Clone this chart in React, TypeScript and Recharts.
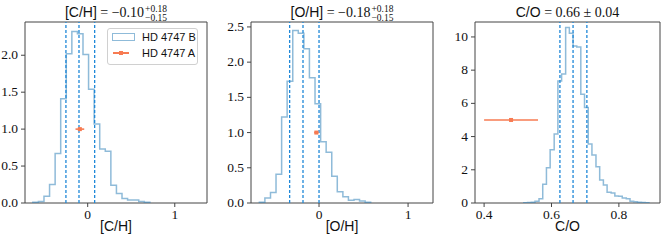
import React from 'react'
import { ComposedChart, Line, Scatter, ErrorBar, XAxis, YAxis, ReferenceLine, ReferenceArea } from 'recharts'

// histogram bin edges and densities
const chEdges = [-0.63, -0.566, -0.502, -0.438, -0.374, -0.31, -0.246, -0.182, -0.118, -0.054, 0.01, 0.074, 0.138, 0.202, 0.266, 0.33, 0.394, 0.458, 0.522, 0.586, 0.65, 0.714]
const chCounts = [0.01, 0.02, 0.09, 0.25, 0.67, 1.41, 2.02, 2.32, 2.29, 2.01, 1.54, 1.07, 0.73, 0.7, 0.24, 0.13, 0.06, 0.04, 0.04, 0.02, 0.01]

const ohEdges = [-0.67, -0.608, -0.545, -0.483, -0.42, -0.358, -0.295, -0.233, -0.17, -0.108, -0.045, 0.018, 0.08, 0.143, 0.205, 0.268, 0.33, 0.393, 0.455, 0.518, 0.58]
const ohCounts = [0.01, 0.07, 0.15, 0.41, 1.22, 1.73, 2.45, 2.41, 2.19, 1.78, 1.41, 0.87, 0.72, 0.38, 0.16, 0.09, 0.04, 0.05, 0.03, 0.01]

const coEdges = [0.518, 0.529, 0.54, 0.551, 0.563, 0.574, 0.585, 0.596, 0.608, 0.619, 0.63, 0.642, 0.653, 0.664, 0.675, 0.687, 0.698, 0.709, 0.72, 0.732, 0.743, 0.754, 0.765, 0.777, 0.788, 0.799, 0.81, 0.822, 0.833, 0.844, 0.855, 0.867, 0.878, 0.889]
const coCounts = [0.02, 0.03, 0.05, 0.1, 0.25, 1.13, 2.13, 3.2, 4.15, 7.35, 7.77, 10.57, 10.22, 9.45, 9.4, 6.55, 5.75, 3.55, 2.89, 2.19, 1.39, 1.08, 0.64, 0.6, 0.42, 0.4, 0.3, 0.26, 0.1, 0.08, 0.05, 0.03, 0.02]

// median and 1-sigma bounds (dashed lines)
const chLines = [-0.25, -0.1, 0.08]
const ohLines = [-0.33, -0.18, 0.0]
const coLines = [0.625, 0.664, 0.705]

// HD 4747 A values
const chStar = [{ x: -0.09, y: 1, xerr: 0.05 }]
const ohStar = [{ x: -0.03, y: 1, xerr: 0.025 }]
const coStar = [{ x: 0.48, y: 5, xerr: 0.08 }]

const chXTicks = [0, 1]
const ohXTicks = [0, 1]
const coXTicks = [0.4, 0.6, 0.8]
const chYTicks = [0, 0.5, 1, 1.5, 2]
const ohYTicks = [0, 0.5, 1, 1.5, 2, 2.5]
const coYTicks = [0, 2, 4, 6, 8, 10]

const histColor = 'rgba(31,119,180,0.5)'
const dashColor = '#1f88d8'
const starColor = '#f77b52'
const serif = '"Liberation Serif", "DejaVu Serif", serif'
const sans = '"Liberation Sans", "DejaVu Sans", sans-serif'

const stepPoints = (edges: number[], counts: number[]) => {
  const pts = [{ x: edges[0], y: 0 }]
  counts.forEach((c, i) => pts.push({ x: edges[i], y: c }))
  pts.push({ x: edges[edges.length - 1], y: 0 })
  return pts
}

const Square = (props: any) => {
  const { cx, cy } = props
  return <rect x={cx - 2} y={cy - 2} width={4} height={4} fill={starColor} />
}

const makeTick = (fmt: (v: number) => string, axis: 'x' | 'y') => (props: any) => {
  const { x, y, payload } = props
  return (
    <text x={x} y={y} dy={axis === 'x' ? 10 : 4} textAnchor={axis === 'x' ? 'middle' : 'end'}
      style={{ fontFamily: serif, fontSize: 13.5, fill: '#111' }}>
      {fmt(payload.value)}
    </text>
  )
}

interface PanelProps {
  left: number
  width: number
  yAxisWidth: number
  right: number
  edges: number[]
  counts: number[]
  lines: number[]
  star: Array<{ x: number, y: number, xerr: number }>
  xDomain: [number, number]
  yDomain: [number, number]
  xTicks: number[]
  yTicks: number[]
  yFmt: (v: number) => string
  xFmt: (v: number) => string
}

const Panel = ({ left, width, yAxisWidth, right, edges, counts, lines, star, xDomain, yDomain, xTicks, yTicks, yFmt, xFmt }: PanelProps) => (
  <div style={{ position: 'absolute', left, top: 0 }}>
    <ComposedChart width={width} height={240} data={stepPoints(edges, counts)} margin={{ top: 22, right, bottom: 17, left: 0 }}>
      <XAxis type="number" dataKey="x" domain={xDomain} allowDataOverflow ticks={xTicks}
        tick={makeTick(xFmt, 'x')} tickSize={4} tickMargin={2} height={20} axisLine={false} stroke="#444" />
      <YAxis type="number" dataKey="y" domain={yDomain} allowDataOverflow ticks={yTicks}
        tick={makeTick(yFmt, 'y')} tickSize={4} tickMargin={3} width={yAxisWidth} axisLine={false} stroke="#444" />
      <Line type="stepAfter" dataKey="y" stroke={histColor} strokeWidth={1.5} dot={false} isAnimationActive={false} />
      {lines.map(v => (
        <ReferenceLine key={v} x={v} stroke={dashColor} strokeWidth={1.3} strokeDasharray="3 2" />
      ))}
      <Scatter data={star} dataKey="y" fill={starColor} shape={<Square />} isAnimationActive={false}>
        <ErrorBar dataKey="xerr" direction="x" width={0} stroke={starColor} strokeWidth={1.6} />
      </Scatter>
      <ReferenceArea x1={xDomain[0]} x2={xDomain[1]} y1={yDomain[0]} y2={yDomain[1]} fill="none" stroke="#444" strokeWidth={1} />
    </ComposedChart>
  </div>
)

const Title = ({ left, width, name, value, up, down }: any) => (
  <div style={{ position: 'absolute', left, width, top: 2, textAlign: 'center', whiteSpace: 'nowrap', fontSize: 14, color: '#111', lineHeight: '20px' }}>
    <span style={{ fontFamily: sans }}>{name}</span>
    <span style={{ fontFamily: serif }}> = {value}</span>
    {up && (
      <span style={{ display: 'inline-flex', flexDirection: 'column', verticalAlign: 'middle', fontFamily: serif, fontSize: 9.5, lineHeight: '9px', textAlign: 'left', marginLeft: 1 }}>
        <span>{up}</span>
        <span>{down}</span>
      </span>
    )}
  </div>
)

const AxisLabel = ({ left, width, text }: any) => (
  <div style={{ position: 'absolute', left, width, top: 218, textAlign: 'center', fontFamily: sans, fontSize: 14, color: '#111' }}>{text}</div>
)

export default function App() {
  const oneDec = (v: number) => v.toFixed(1)
  const plain = (v: number) => String(v)
  return (
    <div style={{ position: 'absolute', left: 0, top: 0, width: 665, height: 240, background: '#fff', overflow: 'hidden' }}>
      <Panel left={0} width={215} yAxisWidth={25} right={8} edges={chEdges} counts={chCounts} lines={chLines} star={chStar}
        xDomain={[-0.72, 1.37]} yDomain={[0, 2.45]} xTicks={chXTicks} yTicks={chYTicks} yFmt={oneDec} xFmt={plain} />
      <Panel left={215} width={225} yAxisWidth={36} right={7} edges={ohEdges} counts={ohCounts} lines={ohLines} star={ohStar}
        xDomain={[-0.764, 1.28]} yDomain={[0, 2.57]} xTicks={ohXTicks} yTicks={ohYTicks} yFmt={oneDec} xFmt={plain} />
      <Panel left={440} width={225} yAxisWidth={35} right={5} edges={coEdges} counts={coCounts} lines={coLines} star={coStar}
        xDomain={[0.373, 0.922]} yDomain={[0, 10.9]} xTicks={coXTicks} yTicks={coYTicks} yFmt={plain} xFmt={oneDec} />

      <Title left={25} width={182} name="[C/H]" value="−0.10" up="+0.18" down="−0.15" />
      <Title left={251} width={182} name="[O/H]" value="−0.18" up="+0.18" down="−0.15" />
      <Title left={475} width={185} name="C/O" value="0.66 ± 0.04" />

      <AxisLabel left={25} width={182} text="[C/H]" />
      <AxisLabel left={251} width={182} text="[O/H]" />
      <AxisLabel left={475} width={185} text="C/O" />

      <div style={{ position: 'absolute', left: 107, top: 28, width: 89, height: 35, border: '1px solid #d0d0d0', borderRadius: 3, background: '#fff', fontFamily: sans, fontSize: 11, color: '#111', whiteSpace: 'nowrap' }}>
        <div style={{ position: 'absolute', left: 4, top: 4, width: 21, height: 6, border: `1.5px solid ${histColor}` }} />
        <div style={{ position: 'absolute', left: 34, top: 1, lineHeight: '15px' }}>HD 4747 B</div>
        <div style={{ position: 'absolute', left: 5, top: 23, width: 16, height: 1.6, background: starColor }} />
        <div style={{ position: 'absolute', left: 11, top: 22, width: 4, height: 4, background: starColor }} />
        <div style={{ position: 'absolute', left: 34, top: 17, lineHeight: '15px' }}>HD 4747 A</div>
      </div>
    </div>
  )
}
